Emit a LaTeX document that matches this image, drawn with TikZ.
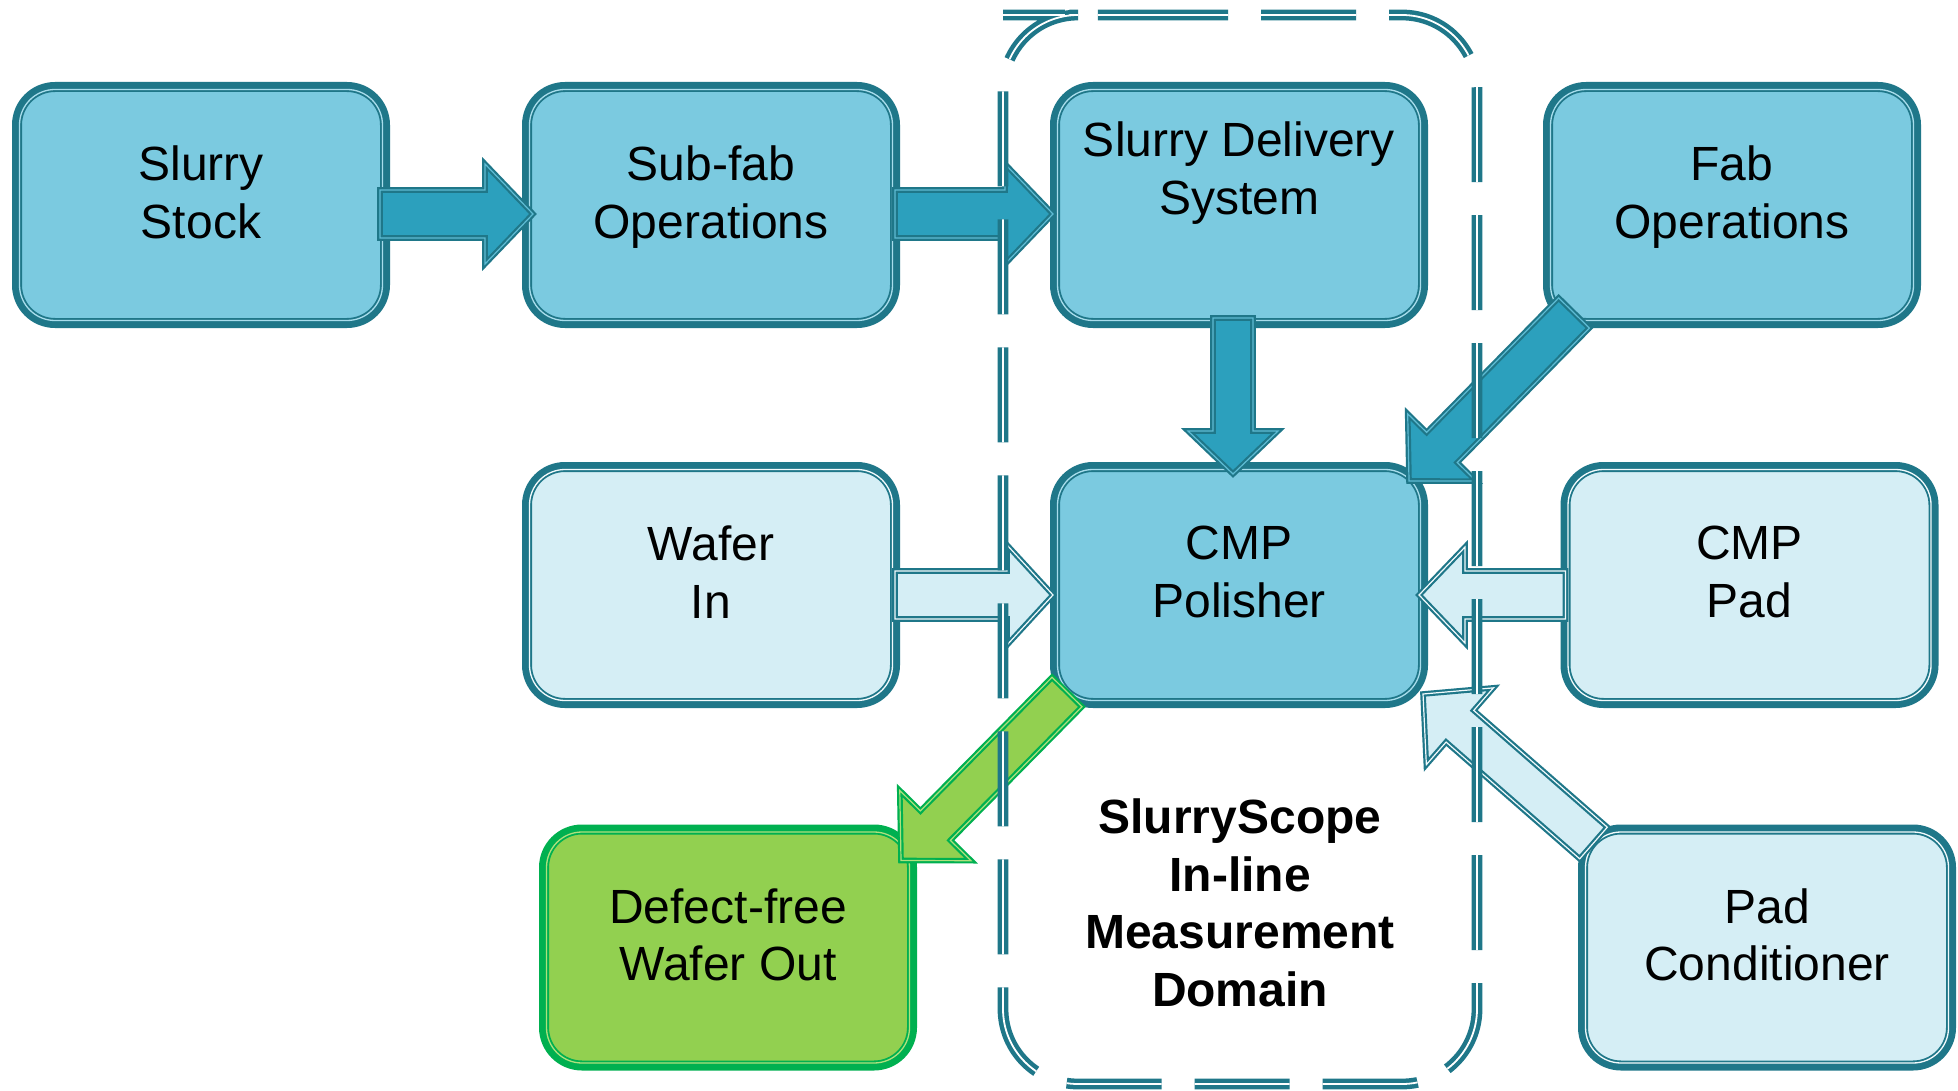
\documentclass[tikz,border=0pt]{standalone}
\usepackage{fontspec}
\setmainfont{Liberation Sans}
\usetikzlibrary{calc}
\definecolor{dk}{RGB}{31,119,137}
\definecolor{bfill}{RGB}{123,202,224}
\definecolor{bring}{RGB}{168,221,236}
\definecolor{lfill}{RGB}{213,238,245}
\definecolor{lring}{RGB}{242,250,252}
\definecolor{gfill}{RGB}{146,208,80}
\definecolor{gdk}{RGB}{0,176,80}
\definecolor{gring}{RGB}{175,224,125}
\definecolor{afill}{RGB}{44,160,189}
\definecolor{aring}{RGB}{95,188,212}

% fat block arrow: [style]{tail}{tip}{shaft half width}{head half width}{head length}
\newcommand{\fatarrow}[6][]{%
  \coordinate (faA) at (#2);
  \coordinate (faB) at (#3);
  \coordinate (faC) at ($(faB)!#6!(faA)$);
  \draw[#1] ($(faA)!#4!90:(faB)$) -- ($(faC)!#4!90:(faB)$) -- ($(faC)!#5!90:(faB)$)
    -- (faB) -- ($(faC)!#5!-90:(faB)$) -- ($(faC)!#4!-90:(faB)$) -- ($(faA)!#4!-90:(faB)$) -- cycle;
}

\tikzset{
  box/.style={rectangle, rounded corners=38pt, minimum width=368pt, minimum height=236pt,
    line width=10pt, inner sep=0pt, outer sep=0pt},
  ring/.style={rectangle, rounded corners=35.5pt, minimum width=363pt, minimum height=231pt,
    line width=1.3pt, inner sep=0pt, outer sep=0pt},
  bluebox/.style={box, fill=bfill, draw=dk},
  lightbox/.style={box, fill=lfill, draw=dk},
  greenbox/.style={box, fill=gfill, draw=gdk},
  lbl/.style={anchor=north, align=center, inner sep=0pt, font=\fontsize{48}{57.5}\selectfont},
  arrowbase/.style={line width=2.2pt, double distance=1.2pt, line join=miter, miter limit=10},
  barrow/.style={arrowbase, fill=afill, draw=dk, double=aring},
  larrow/.style={arrowbase, fill=lfill, draw=dk, double=lring},
  garrow/.style={arrowbase, fill=gfill, draw=gdk, double=gring},
  domframe/.style={draw=dk, double=white, line width=4.5pt, double distance=1.8pt,
    dash pattern=on 95pt off 33pt, dash phase=20pt, rounded corners=75pt},
}

\begin{document}
\begin{tikzpicture}[x=1pt, y=-1pt]
\fill[white] (0,0) rectangle (1958,1091);
\useasboundingbox (0,0) rectangle (1958,1091);

% boxes
\node[bluebox] (ss) at (201,205) {};
\node[ring, draw=bring] (ssr) at (ss.center) {};
\node[bluebox] (sf) at (711,205) {};
\node[ring, draw=bring] (sfr) at (sf.center) {};
\node[bluebox] (sd) at (1239,205) {};
\node[ring, draw=bring] (sdr) at (sd.center) {};
\node[bluebox] (fo) at (1732,205) {};
\node[ring, draw=bring] (for) at (fo.center) {};
\node[lightbox] (wi) at (711,585) {};
\node[ring, draw=lring] (wir) at (wi.center) {};
\node[bluebox] (cmp) at (1239,585) {};
\node[ring, draw=bring] (cmpr) at (cmp.center) {};
\node[lightbox] (pad) at (1749.5,585) {};
\node[ring, draw=lring] (padr) at (pad.center) {};
\node[greenbox] (df) at (728,947.5) {};
\node[ring, draw=gring] (dfr) at (df.center) {};
\node[lightbox] (pc) at (1767,947.5) {};
\node[ring, draw=lring] (pcr) at (pc.center) {};

% texts
\node[lbl] (ssT) at ([shift={(0,-59)}]ss.center) {Slurry\\Stock};
\node[lbl] (sfT) at ([shift={(0,-59)}]sf.center) {Sub-fab\\Operations};
\node[lbl] (sdT) at ([shift={(0,-83)}]sd.center) {Slurry Delivery\\System};
\node[lbl] (foT) at ([shift={(0,-59)}]fo.center) {Fab\\Operations};
\node[lbl] (wiT) at ([shift={(0,-59)}]wi.center) {Wafer\\In};
\node[lbl] (cmpT) at ([shift={(0,-59)}]cmp.center) {CMP\\Polisher};
\node[lbl] (padT) at ([shift={(0,-59)}]pad.center) {CMP\\Pad};
\node[lbl] (dfT) at ([shift={(0,-59)}]df.center) {Defect-free\\Wafer Out};
\node[lbl] (pcT) at ([shift={(0,-59)}]pc.center) {Pad\\Conditioner};

% arrows
\fatarrow[barrow]{[shift={(-5,9)}]ss.east}{[shift={(6,9)}]sf.west}{24pt}{50pt}{48pt}
\fatarrow[barrow]{[shift={(0,9)}]sf.east}{[shift={(-2,9)}]sd.west}{24pt}{50pt}{48pt}
\fatarrow[barrow]{[shift={(-6,-5)}]sd.south}{[shift={(-6,7)}]cmp.north}{20pt}{45pt}{43pt}
\fatarrow[barrow]{[shift={(26,-10)}]fo.south west}{[shift={(-14,14)}]cmp.north east}{21.5pt}{48pt}{47pt}
\fatarrow[larrow]{[shift={(0,10)}]wi.east}{[shift={(-2,10)}]cmp.west}{24pt}{50pt}{46pt}
\fatarrow[larrow]{[shift={(0,10)}]pad.west}{[shift={(-4,10)}]cmp.east}{24pt}{48pt}{46pt}
\fatarrow[larrow]{[shift={(10.5,13.5)}]pc.north west}{[shift={(0,-9)}]cmp.south east}{21pt}{51pt}{49pt}
\fatarrow[garrow]{[shift={(12,-11)}]cmp.south west}{[shift={(-11,31)}]df.north east}{21pt}{50pt}{49pt}

% measurement domain frame
\draw[domframe] (1078,15) -- (1477,15) -- (1477,1084) -- (1003,1084) -- (1003,15) -- cycle;
\node[anchor=north, align=center, inner sep=0pt, font=\bfseries\fontsize{48}{57.5}\selectfont]
  (dom) at (1240,799) {SlurryScope\\In-line\\Measurement\\Domain};
\end{tikzpicture}
\end{document}
